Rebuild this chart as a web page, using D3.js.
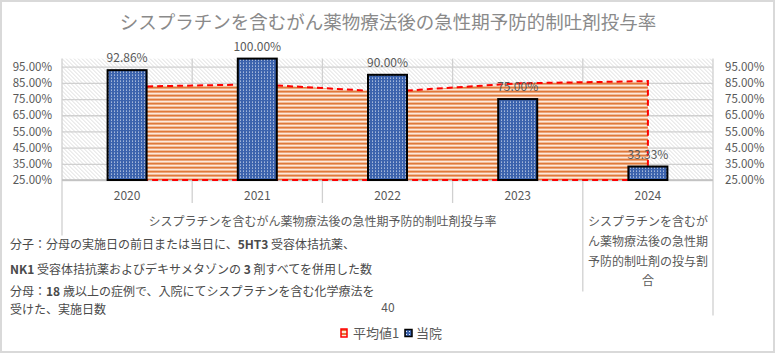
<!DOCTYPE html>
<html>
<head>
<meta charset="utf-8">
<script src="https://cdn.jsdelivr.net/npm/d3@7"></script>
<style>
  body { margin: 0; background: #fff; }
  text { font-family: "Noto Sans CJK JP", "Noto Sans", sans-serif; fill: #595959; }
</style>
</head>
<body>
<svg id="chart" width="776" height="354"></svg>
<script>
const title = 'シスプラチンを含むがん薬物療法後の急性期予防的制吐剤投与率';
const years = ['2020', '2021', '2022', '2023', '2024'];
const hospital = [0.9286, 1.0, 0.90, 0.75, 0.3333];   // 当院
const average = [0.826, 0.841, 0.795, 0.847, 0.861];  // 平均値1
const yTicks = [0.25, 0.35, 0.45, 0.55, 0.65, 0.75, 0.85, 0.95];
const groupLabel1 = 'シスプラチンを含むがん薬物療法後の急性期予防的制吐剤投与率';
const groupLabel2 = ['シスプラチンを含むが', 'ん薬物療法後の急性期', '予防的制吐剤の投与割', '合'];
const noteLines = [
  [['分子：分母の実施日の前日または当日に、', 0], ['5HT3', 1], [' 受容体拮抗薬、', 0]],
  [['NK1', 1], [' 受容体拮抗薬およびデキサメタゾンの ', 0], ['3', 1], [' 剤すべてを併用した数', 0]],
  [['分母：', 0], ['18', 1], [' 歳以上の症例で、入院にてシスプラチンを含む化学療法を', 0]],
  [['受けた、実施日数', 0]]
];
const countLabel = '40';
const legendNames = ['平均値1', '当院'];

const svg = d3.select('#chart');
const W = 776, H = 354;
const margin = {top: 58.6, right: 63, bottom: 174, left: 62};
const innerW = W - margin.left - margin.right;
const innerH = H - margin.top - margin.bottom;

// patterns
const defs = svg.append('defs');
const hatch = defs.append('pattern').attr('id', 'hatch')
  .attr('patternUnits', 'userSpaceOnUse').attr('width', 4).attr('height', 4);
hatch.append('path').attr('d', 'M-1,3 l2,2 M0,0 l4,4 M3,-1 l2,2')
  .attr('stroke', '#d4d4d4').attr('stroke-width', 0.8);

const stripes = defs.append('pattern').attr('id', 'stripes')
  .attr('patternUnits', 'userSpaceOnUse').attr('width', 4).attr('height', 4);
stripes.append('rect').attr('width', 4).attr('height', 4).attr('fill', '#fde8da');
stripes.append('rect').attr('width', 4).attr('height', 2).attr('fill', '#e0793a');

const dots = defs.append('pattern').attr('id', 'dots')
  .attr('patternUnits', 'userSpaceOnUse').attr('width', 3).attr('height', 3);
dots.append('rect').attr('width', 3).attr('height', 3).attr('fill', '#3c63ad');
dots.append('rect').attr('x', 1).attr('y', 1).attr('width', 1).attr('height', 1).attr('fill', '#e8eef8');

// outer border
svg.append('rect').attr('x', 1).attr('y', 1).attr('width', W - 3).attr('height', H - 3)
  .attr('fill', 'none').attr('stroke', '#d9d9d9').attr('stroke-width', 2);

// title
svg.append('text').attr('x', 388).attr('y', 29).attr('text-anchor', 'middle')
  .style('font-size', '18.5px').style('fill', '#8a8a8a').text(title);

const g = svg.append('g').attr('transform', `translate(${margin.left},${margin.top})`);

const x = d3.scaleBand().domain(years).range([0, innerW]);
const y = d3.scaleLinear().domain([0.25, 1]).range([innerH, 0]);

// plot background hatch
g.append('rect').attr('width', innerW).attr('height', innerH).attr('fill', 'url(#hatch)');

// horizontal gridlines
g.append('g').call(d3.axisLeft(y).tickValues(yTicks).tickSize(-innerW).tickFormat(''))
  .call(s => s.select('.domain').remove())
  .call(s => s.selectAll('line').attr('stroke', '#d0d0d0').attr('stroke-width', 1.3));

// vertical gridlines at category boundaries
const bounds = years.map(d => x(d)).concat([innerW]);
g.append('g').selectAll('line').data(bounds).join('line')
  .attr('x1', d => d).attr('x2', d => d)
  .attr('y1', 0)
  .attr('y2', (d, i) => i === 0 ? 177 : i === 5 ? 257 : i === 4 ? 233 : innerH + 23)
  .attr('stroke', '#d0d0d0').attr('stroke-width', 1.3);

// x axis line
g.append('line').attr('x1', 0).attr('x2', innerW).attr('y1', innerH).attr('y2', innerH)
  .attr('stroke', '#bfbfbf').attr('stroke-width', 1.3);

// average area
const cx = d => x(d) + x.bandwidth() / 2;
const area = d3.area()
  .x((d, i) => cx(years[i]))
  .y0(y(0.25))
  .y1(d => y(d));
g.append('path').datum(average)
  .attr('d', area)
  .attr('fill', 'url(#stripes)')
  .attr('stroke', '#ff0000').attr('stroke-width', 2).attr('stroke-dasharray', '6,4');

// hospital bars
const barW = 39;
g.selectAll('rect.bar').data(hospital).join('rect').attr('class', 'bar')
  .attr('x', (d, i) => cx(years[i]) - barW / 2)
  .attr('y', d => y(d))
  .attr('width', barW)
  .attr('height', d => innerH - y(d))
  .attr('fill', 'url(#dots)')
  .attr('stroke', '#000').attr('stroke-width', 2);

// data labels
g.selectAll('text.lbl').data(hospital).join('text').attr('class', 'lbl')
  .attr('x', (d, i) => cx(years[i]))
  .attr('y', d => y(d) - 8)
  .attr('text-anchor', 'middle')
  .style('font-size', '12px')
  .text(d => d3.format('.2%')(d));

// left and right axes
const fmt = d3.format('.2%');
g.append('g').call(d3.axisLeft(y).tickValues(yTicks).tickSize(0).tickPadding(10).tickFormat(fmt))
  .call(s => s.select('.domain').remove())
  .call(s => s.selectAll('text').style('font-size', '11.5px').style('font-family', null).style('fill', '#595959'));
g.append('g').attr('transform', `translate(${innerW},0)`)
  .call(d3.axisRight(y).tickValues(yTicks).tickSize(0).tickPadding(12).tickFormat(fmt))
  .call(s => s.select('.domain').remove())
  .call(s => s.selectAll('text').style('font-size', '11.5px').style('font-family', null).style('fill', '#595959'));

// category labels
g.append('g').attr('transform', `translate(0,${innerH})`)
  .call(d3.axisBottom(x).tickSize(0).tickPadding(11))
  .call(s => s.select('.domain').remove())
  .call(s => s.selectAll('text').style('font-size', '12px').style('font-family', null).style('fill', '#595959'));

// group labels
g.append('text').attr('x', (x('2020') + x('2024')) / 2).attr('y', innerH + 46)
  .attr('text-anchor', 'middle').style('font-size', '12px').text(groupLabel1);
g.append('g').selectAll('text').data(groupLabel2).join('text')
  .attr('x', cx('2024')).attr('y', (d, i) => innerH + 46 + i * 19.8)
  .attr('text-anchor', 'middle').style('font-size', '12px').text(d => d);

// note text box
const noteY = [249, 273.5, 295.5, 314];
const notes = svg.append('g');
noteLines.forEach((line, i) => {
  const t = notes.append('text').attr('x', 10).attr('y', noteY[i]).style('font-size', '12px').style('fill', '#4a4a4a');
  line.forEach(([s, b]) => {
    t.append('tspan').style('font-weight', b ? 'bold' : 'normal').text(s);
  });
});

svg.append('text').attr('x', 388).attr('y', 312).attr('text-anchor', 'middle')
  .style('font-size', '12px').text(countLabel);

// legend
const lg = svg.append('g').attr('transform', 'translate(0,333)');
lg.append('rect').attr('x', 341).attr('y', -4).attr('width', 6).attr('height', 8)
  .attr('fill', 'url(#stripes)').attr('stroke', '#ff0000').attr('stroke-width', 1.5);
lg.append('text').attr('x', 353).attr('y', 4.5).style('font-size', '13px').text(legendNames[0]);
lg.append('rect').attr('x', 405).attr('y', -3.5).attr('width', 7).attr('height', 7)
  .attr('fill', 'url(#dots)').attr('stroke', '#000').attr('stroke-width', 1.5);
lg.append('text').attr('x', 416).attr('y', 4.5).style('font-size', '13px').text(legendNames[1]);
</script>
</body>
</html>
